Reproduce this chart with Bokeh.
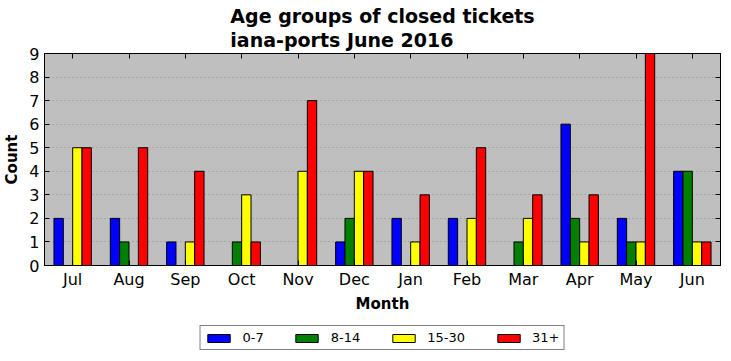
from bokeh.plotting import figure
from bokeh.layouts import column
from bokeh.models import (Range1d, FactorRange, LinearAxis, CategoricalAxis, FixedTicker,
                          Legend, LegendItem, ColumnDataSource, Title)
from bokeh.transform import dodge
from bokeh.embed import file_html
from bokeh.resources import INLINE

months = ["Jul", "Aug", "Sep", "Oct", "Nov", "Dec", "Jan", "Feb", "Mar", "Apr", "May", "Jun"]
age_groups = ["0-7", "8-14", "15-30", "31+"]
g0_7 = [2, 2, 1, 0, 0, 1, 2, 2, 0, 6, 2, 4]
g8_14 = [0, 1, 0, 1, 0, 2, 0, 0, 1, 2, 1, 4]
g15_30 = [5, 0, 1, 3, 4, 4, 1, 2, 2, 1, 1, 1]
g31p = [5, 5, 4, 1, 7, 4, 3, 5, 3, 3, 9, 1]
colors = ["#0000ff", "#008000", "#ffff00", "#ff0000"]
keys = ["g0", "g1", "g2", "g3"]

FONT = "DejaVu Sans"
W = 722
src = ColumnDataSource(dict(month=months, g0=g0_7, g1=g8_14, g2=g15_30, g3=g31p))

p = figure(width=W, height=320, x_range=FactorRange(*months, range_padding=0),
           y_range=Range1d(0, 9), output_backend="svg", toolbar_location=None,
           min_border_left=44, min_border_right=2, min_border_top=53, min_border_bottom=55)
p.title = Title(text="Age groups of closed tickets\niana-ports June 2016", align="center",
                text_font=FONT, text_font_size="19px", text_font_style="bold",
                text_color="black", text_line_height=1.1, standoff=4)
p.background_fill_color = "#bfbfbf"
p.border_fill_color = "white"
p.outline_line_color = "black"
p.outline_line_width = 1

bw = 0.166
offs = [-1.5 * bw, -0.5 * bw, 0.5 * bw, 1.5 * bw]
for i, key in enumerate(keys):
    p.vbar(x=dodge("month", offs[i], range=p.x_range), top=key, width=bw, source=src,
           fill_color=colors[i], line_color="black", line_width=1)

p.xgrid.grid_line_color = None
p.ygrid.grid_line_color = "#8a8a8a"
p.ygrid.grid_line_dash = "1 3"
p.ygrid.grid_line_width = 1
p.yaxis.ticker = FixedTicker(ticks=list(range(10)))

for ax in [p.xaxis[0], p.yaxis[0]]:
    ax.major_tick_in = 5
    ax.major_tick_out = 0
    ax.minor_tick_in = 0
    ax.minor_tick_out = 0
    ax.axis_line_color = "black"
    ax.major_label_text_font = FONT
    ax.major_label_text_font_size = "16px"
    ax.major_label_text_color = "black"
    ax.axis_label_text_font = FONT
    ax.axis_label_text_font_size = "15px"
    ax.axis_label_text_font_style = "bold"
    ax.axis_label_text_color = "black"
    ax.major_label_standoff = 5
p.xaxis.axis_label = "Month"
p.yaxis.axis_label = "Count"
p.xaxis.axis_label_standoff = 3
p.yaxis.axis_label_standoff = 5
p.xaxis.major_label_standoff = 4

top = CategoricalAxis(major_tick_in=5, major_tick_out=0, major_label_text_font_size="1px",
                      major_label_text_alpha=0, major_label_standoff=0, axis_line_color="black")
right = LinearAxis(ticker=FixedTicker(ticks=list(range(10))), major_tick_in=5, major_tick_out=0,
                   minor_tick_in=0, minor_tick_out=0, major_label_text_alpha=0,
                   major_label_text_font_size="1px", major_label_standoff=0, axis_line_color="black")
p.add_layout(top, "above")
p.add_layout(right, "right")

# legend panel below the chart (its glyphs fall outside its visible range)
lg = figure(width=W, height=33, x_range=p.x_range, y_range=Range1d(20, 21),
            x_axis_type=None, y_axis_type=None, output_backend="svg", toolbar_location=None,
            min_border_left=0, min_border_right=0, min_border_top=0, min_border_bottom=0)
lg.outline_line_color = None
lg.grid.grid_line_color = None
lrs = [lg.vbar(x=dodge("month", offs[i], range=p.x_range), top=keys[i], width=bw, source=src,
               fill_color=colors[i], line_color="black", line_width=1) for i in range(4)]
legend = Legend(items=[LegendItem(label=age_groups[i], renderers=[lrs[i]]) for i in range(4)],
                orientation="horizontal", location="bottom_center",
                label_text_font=FONT, label_text_font_size="13px", label_text_color="black",
                glyph_width=28, glyph_height=10, label_standoff=10, spacing=29,
                padding=4, margin=3, border_line_color="black", border_line_width=1,
                background_fill_alpha=1)
lg.add_layout(legend)

layout = column(p, lg, spacing=0)
open("out.html", "w").write(file_html(layout, INLINE))
